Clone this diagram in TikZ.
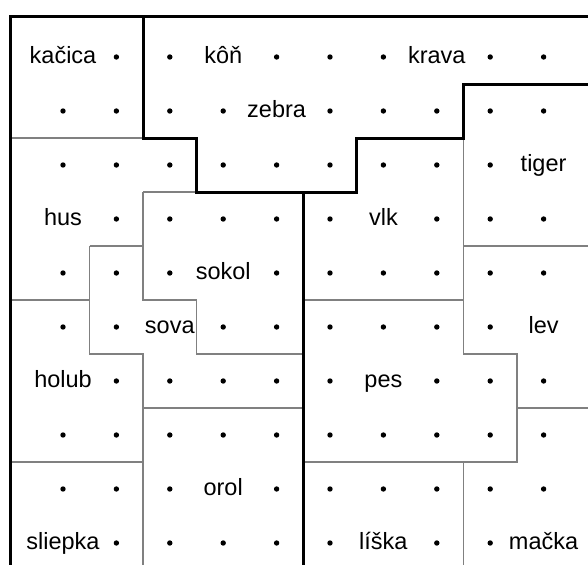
\documentclass[tikz,border=0pt]{standalone}
\usepackage{fontspec}
\setmainfont{Liberation Sans}
\begin{document}
\begin{tikzpicture}[x=53.4pt,y=-54pt,
  thin line/.style={draw=black!50,line width=1.4pt},
  thick line/.style={draw=black,line width=3pt,line join=miter},
  lab/.style={anchor=base,yshift=-6pt,inner sep=0pt,font=\fontsize{23.5}{26}\selectfont},
  dotn/.style={circle,fill=black,inner sep=0pt,minimum size=5.4pt}]
\def\L{-0.9925}\def\T{-0.759}\def\R{10}\def\B{9.6}
\useasboundingbox (-1.1798,-1.0556) rectangle (9.8315,9.4074);
\fill[white] (-1.1798,-1.0556) rectangle (9.8315,9.4074);
\clip (-1.1798,-1.0556) rectangle (9.8315,9.4074);
% labels
\expandafter\def\csname lab-0-0\endcsname{kačica}
\expandafter\def\csname lab-3-0\endcsname{kôň}
\expandafter\def\csname lab-7-0\endcsname{krava}
\expandafter\def\csname lab-4-1\endcsname{zebra}
\expandafter\def\csname lab-9-2\endcsname{tiger}
\expandafter\def\csname lab-0-3\endcsname{hus}
\expandafter\def\csname lab-6-3\endcsname{vlk}
\expandafter\def\csname lab-3-4\endcsname{sokol}
\expandafter\def\csname lab-2-5\endcsname{sova}
\expandafter\def\csname lab-9-5\endcsname{lev}
\expandafter\def\csname lab-0-6\endcsname{holub}
\expandafter\def\csname lab-6-6\endcsname{pes}
\expandafter\def\csname lab-3-8\endcsname{orol}
\expandafter\def\csname lab-0-9\endcsname{sliepka}
\expandafter\def\csname lab-6-9\endcsname{líška}
\expandafter\def\csname lab-9-9\endcsname{mačka}
\foreach \r in {0,...,9}{
  \foreach \c in {0,...,9}{
    \ifcsname lab-\c-\r\endcsname
      \node[lab] (n-\c-\r) at (\c,\r) {\csname lab-\c-\r\endcsname};
    \else
      \node[dotn] (d-\c-\r) at (\c,\r) {};
    \fi
  }
}
% thin region borders
\path[thin line] (\L,1.5) -- (1.5,1.5);
\path[thin line] (1.5,2.5) -- (2.5,2.5);
\path[thin line] (1.5,2.5) -- (1.5,4.5) -- (2.5,4.5) -- (2.5,5.5) -- (4.5,5.5);
\path[thin line] (0.5,3.5) -- (1.5,3.5);
\path[thin line] (0.5,3.5) -- (0.5,5.5) -- (1.5,5.5) -- (1.5,\B);
\path[thin line] (\L,4.5) -- (0.5,4.5);
\path[thin line] (1.5,6.5) -- (4.5,6.5);
\path[thin line] (\L,7.5) -- (1.5,7.5);
\path[thin line] (7.5,1.5) -- (7.5,5.5) -- (8.5,5.5) -- (8.5,7.5) -- (4.5,7.5);
\path[thin line] (7.5,3.5) -- (\R,3.5);
\path[thin line] (4.5,4.5) -- (7.5,4.5);
\path[thin line] (8.5,6.5) -- (\R,6.5);
\path[thin line] (7.5,7.5) -- (7.5,\B);
% thick borders
\path[thick line] (\L,\B) -- (\L,\T) -- (\R,\T);
\path[thick line] (1.5,\T) -- (1.5,1.5) -- (2.5,1.5) -- (2.5,2.5) -- (5.5,2.5) -- (5.5,1.5) -- (7.5,1.5) -- (7.5,0.5) -- (\R,0.5);
\path[thick line] (4.5,2.5) -- (4.5,\B);
\end{tikzpicture}
\end{document}
